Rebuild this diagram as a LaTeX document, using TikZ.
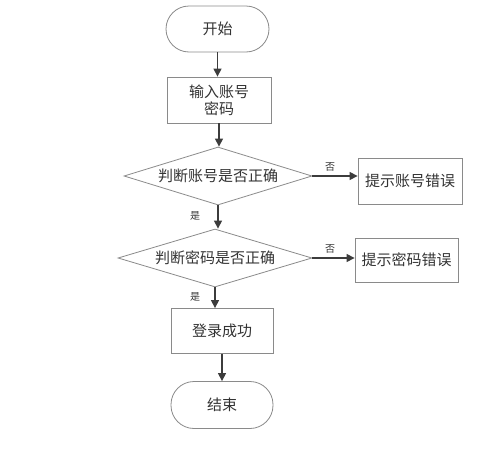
\documentclass[tikz,border=0pt]{standalone}
\usepackage{fontspec}
\setmainfont{Noto Sans CJK SC}
\usetikzlibrary{shapes.geometric,arrows.meta}
\definecolor{edgegray}{HTML}{3C3C3C}
\definecolor{boxgray}{HTML}{8A8A8A}
\definecolor{txtgray}{HTML}{333333}
\begin{document}
\begin{tikzpicture}[x=1pt,y=-1pt,
  every node/.style={text=txtgray},
  base/.style={draw=boxgray,line width=0.8pt,font=\fontsize{15}{18}\selectfont,align=center,inner sep=0pt},
  term/.style={base,rectangle,rounded corners=23pt,minimum width=103pt,minimum height=46pt},
  proc/.style={base,rectangle,minimum width=104pt,minimum height=46pt},
  decide/.style={base,diamond,shape aspect=3.2,minimum width=188pt,minimum height=58pt},
  flow/.style={draw=edgegray,line width=1.3pt,-{Triangle[length=8pt,width=8pt]}},
  lab/.style={font=\fontsize{10}{12}\selectfont,inner sep=0pt}
]
\useasboundingbox (0,0) rectangle (499,450);
\node[term] (start) at (217.5,29) {开始};
\node[proc] (input) at (219,100) {输入账号\\[-1pt]密码};
\node[decide] (d1) at (218,176) {判断账号是否正确};
\node[proc] (err1) at (410,181) {提示账号错误};
\node[decide,minimum width=194pt,shape aspect=3.35] (d2) at (215,258) {判断密码是否正确};
\node[proc,minimum width=103pt,minimum height=44pt] (err2) at (406.5,260) {提示密码错误};
\node[proc,minimum width=102pt,minimum height=45pt] (ok) at (222,331) {登录成功};
\node[term,minimum width=102pt,minimum height=47pt] (end) at (222,405) {结束};

\draw[flow] (start.south) -- (start.south |- input.north);
\draw[flow] (input.south) -- (input.south |- d1.north);
\draw[flow] (d1.east) -- (d1.east -| err1.west);
\draw[flow] (d1.south) -- (d1.south |- d2.north);
\draw[flow] (d2.east) -- (d2.east -| err2.west);
\draw[flow] (d2.south) -- (d2.south |- ok.north);
\draw[flow] (ok.south) -- (ok.south |- end.north);

\node[lab] (no1) at (330,167) {否};
\node[lab] (yes1) at (195,216) {是};
\node[lab] (no2) at (330,249) {否};
\node[lab] (yes2) at (195,297) {是};
\end{tikzpicture}
\end{document}
